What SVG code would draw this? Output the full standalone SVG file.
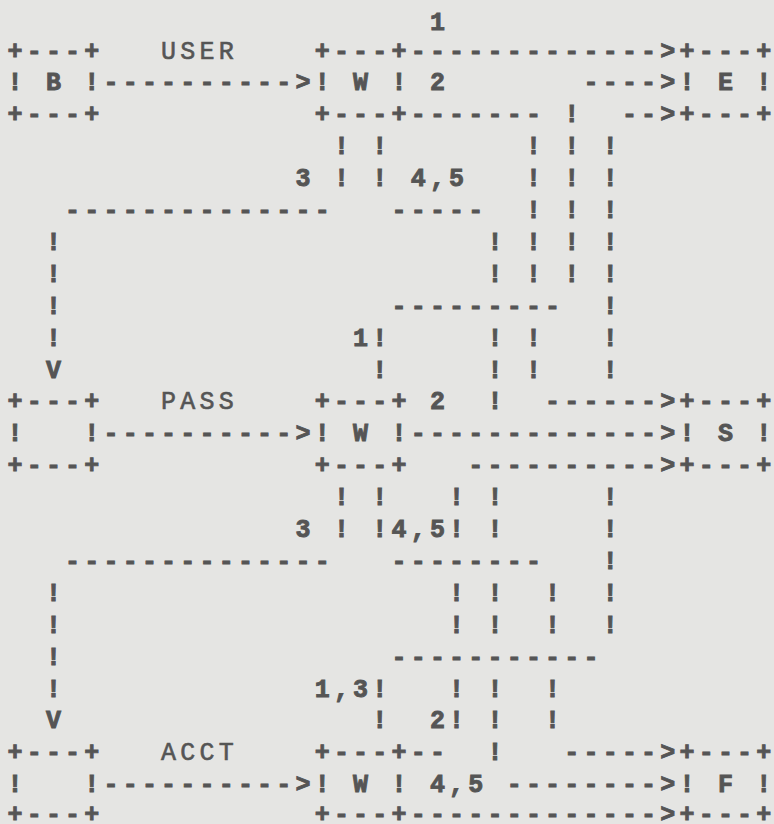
<svg xmlns="http://www.w3.org/2000/svg" width="774" height="824" viewBox="0 0 774 824" xml:space="preserve">
<style>
text{font-family:"Liberation Mono","DejaVu Sans Mono",monospace;font-size:25px;letter-spacing:4.2px;fill:#555;stroke:#555;stroke-width:0.9px;font-weight:bold;white-space:pre}
.lbl{font-weight:normal;stroke-width:0.6px}
</style>
<rect width="774" height="824" fill="#e5e5e3"/>
<g id="node-B"><text x="7.5" y="58.5">+---+</text><text x="7.5" y="90.4">! B !</text><text x="7.5" y="122.3">+---+</text></g>
<g id="label-USER"><text class="lbl" x="161.1" y="58.5">USER</text></g>
<g id="node-W1"><text x="314.7" y="58.5">+---+</text><text x="314.7" y="90.4">! W !</text><text x="314.7" y="122.3">+---+</text></g>
<g id="node-E"><text x="679.5" y="58.5">+---+</text><text x="679.5" y="90.4">! E !</text><text x="679.5" y="122.3">+---+</text></g>
<g id="node-P"><text x="7.5" y="409.4">+---+</text><text x="7.5" y="441.3">!   !</text><text x="7.5" y="473.2">+---+</text></g>
<g id="label-PASS"><text class="lbl" x="161.1" y="409.4">PASS</text></g>
<g id="node-W2"><text x="314.7" y="409.4">+---+</text><text x="314.7" y="441.3">! W !</text><text x="314.7" y="473.2">+---+</text></g>
<g id="node-S"><text x="679.5" y="409.4">+---+</text><text x="679.5" y="441.3">! S !</text><text x="679.5" y="473.2">+---+</text></g>
<g id="node-A"><text x="7.5" y="760.3">+---+</text><text x="7.5" y="792.2">!   !</text><text x="7.5" y="822">+---+</text></g>
<g id="label-ACCT"><text class="lbl" x="161.1" y="760.3">ACCT</text></g>
<g id="node-W3"><text x="314.7" y="760.3">+---+</text><text x="314.7" y="792.2">! W !</text><text x="314.7" y="822">+---+</text></g>
<g id="node-F"><text x="679.5" y="760.3">+---+</text><text x="679.5" y="792.2">! F !</text><text x="679.5" y="822">+---+</text></g>
<g id="connectors">
<text x="429.9" y="30">1</text>
<text x="410.7" y="58.5">-------------&gt;</text>
<text x="103.5" y="90.4">----------&gt;</text><text x="429.9" y="90.4">2</text><text x="583.5" y="90.4">----&gt;</text>
<text x="410.7" y="122.3">-------</text><text x="564.3" y="122.3">!</text><text x="621.9" y="122.3">--&gt;</text>
<text x="333.9" y="154.2">! !</text><text x="525.9" y="154.2">! ! !</text>
<text x="295.5" y="186.1">3 ! ! 4,5</text><text x="525.9" y="186.1">! ! !</text>
<text x="65.1" y="218">--------------</text><text x="391.5" y="218">-----</text><text x="525.9" y="218">! ! !</text>
<text x="45.9" y="249.9">!</text><text x="487.5" y="249.9">! ! ! !</text>
<text x="45.9" y="281.8">!</text><text x="487.5" y="281.8">! ! ! !</text>
<text x="45.9" y="313.7">!</text><text x="391.5" y="313.7">---------</text><text x="602.7" y="313.7">!</text>
<text x="45.9" y="345.6">!</text><text x="353.1" y="345.6">1!</text><text x="487.5" y="345.6">! !</text><text x="602.7" y="345.6">!</text>
<text x="45.9" y="377.5">V</text><text x="372.3" y="377.5">!</text><text x="487.5" y="377.5">! !</text><text x="602.7" y="377.5">!</text>
<text x="429.9" y="409.4">2</text><text x="487.5" y="409.4">!</text><text x="545.1" y="409.4">------&gt;</text>
<text x="103.5" y="441.3">----------&gt;</text><text x="410.7" y="441.3">-------------&gt;</text>
<text x="468.3" y="473.2">----------&gt;</text>
<text x="333.9" y="505.1">! !</text><text x="449.1" y="505.1">! !</text><text x="602.7" y="505.1">!</text>
<text x="295.5" y="537">3 ! !4,5! !</text><text x="602.7" y="537">!</text>
<text x="65.1" y="568.9">--------------</text><text x="391.5" y="568.9">--------</text><text x="602.7" y="568.9">!</text>
<text x="45.9" y="600.8">!</text><text x="449.1" y="600.8">! !</text><text x="545.1" y="600.8">!  !</text>
<text x="45.9" y="632.7">!</text><text x="449.1" y="632.7">! !</text><text x="545.1" y="632.7">!  !</text>
<text x="45.9" y="664.6">!</text><text x="391.5" y="664.6">-----------</text>
<text x="45.9" y="696.5">!</text><text x="314.7" y="696.5">1,3!</text><text x="449.1" y="696.5">! !</text><text x="545.1" y="696.5">!</text>
<text x="45.9" y="728.4">V</text><text x="372.3" y="728.4">!</text><text x="429.9" y="728.4">2!</text><text x="487.5" y="728.4">!</text><text x="545.1" y="728.4">!</text>
<text x="410.7" y="760.3">--</text><text x="487.5" y="760.3">!</text><text x="564.3" y="760.3">-----&gt;</text>
<text x="103.5" y="792.2">----------&gt;</text><text x="429.9" y="792.2">4,5</text><text x="506.7" y="792.2">--------&gt;</text>
<text x="410.7" y="822">-------------&gt;</text>
</g>
</svg>
